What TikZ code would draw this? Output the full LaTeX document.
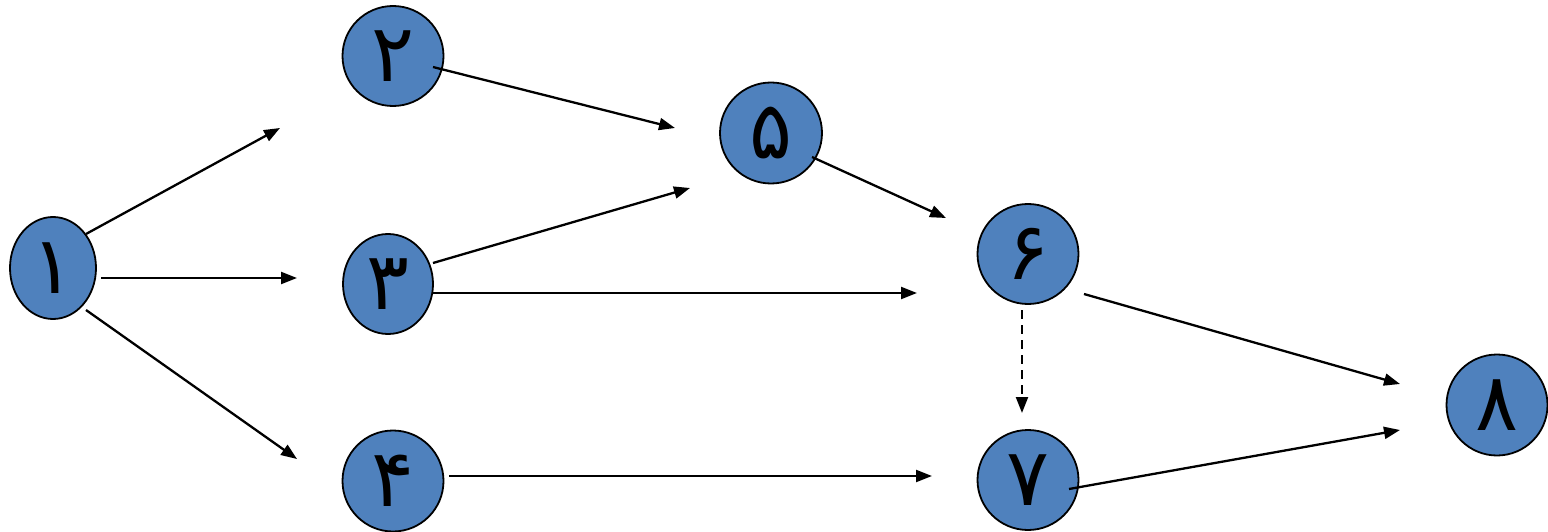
\documentclass[tikz,border=0pt]{standalone}
\usepackage{fontspec}
\usetikzlibrary{arrows.meta,shapes.geometric}
\newfontfamily\arabicfont[Script=Arabic]{DejaVu Sans}
\TeXXeTstate=1
\definecolor{nodeblue}{HTML}{4F81BD}
\tikzset{
  evnode/.style={ellipse, draw=black, line width=1.8pt, fill=nodeblue, inner sep=0pt,
    font=\arabicfont\fontsize{80}{80}\selectfont},
  arr/.style={line width=2.3pt, -{Triangle[length=16pt,width=12pt]}},
  darr/.style={arr, dash pattern=on 9pt off 6pt}
}
\begin{document}
\begin{tikzpicture}[x=1pt,y=-1pt]
\useasboundingbox (0,0) rectangle (1548,532);
\node[evnode, minimum width=86pt, minimum height=102pt] (n1) at (53,268) {\beginR ۱\endR};
\node[evnode, minimum width=101pt, minimum height=100pt] (n2) at (393,56) {\beginR ۲\endR};
\node[evnode, minimum width=90pt, minimum height=100pt] (n3) at (388,284) {\beginR ۳\endR};
\node[evnode, minimum width=101pt, minimum height=101pt] (n4) at (393,481) {\beginR ۴\endR};
\node[evnode, minimum width=102pt, minimum height=101pt] (n5) at (771,133) {\beginR ۵\endR};
\node[evnode, minimum width=101pt, minimum height=100pt] (n6) at (1028,254) {\beginR ۶\endR};
\node[evnode, minimum width=101pt, minimum height=100pt] (n7) at (1028,480) {\beginR ۷\endR};
\node[evnode, minimum width=101pt, minimum height=101pt] (n8) at (1497,405) {\beginR ۸\endR};

\coordinate (s1a) at (86,234); \coordinate (e1a) at (280,128);
\coordinate (s1b) at (101,278); \coordinate (e1b) at (297,278);
\coordinate (s1c) at (86,310); \coordinate (e1c) at (297,459);
\coordinate (s2) at (433,67); \coordinate (e2) at (675,128);
\coordinate (s3a) at (433,263); \coordinate (e3a) at (690,188);
\coordinate (s3b) at (433,293); \coordinate (e3b) at (917,293);
\coordinate (s5) at (812,157); \coordinate (e5) at (946,218);
\coordinate (s4) at (449,476); \coordinate (e4) at (932,476);
\coordinate (s6a) at (1084,294); \coordinate (e6a) at (1400,384);
\coordinate (s6b) at (1022,310); \coordinate (e6b) at (1022,413);
\coordinate (s7) at (1069,489); \coordinate (e7) at (1400,430);

\draw[arr] (s1a) -- (e1a);
\draw[arr] (s1b) -- (e1b);
\draw[arr] (s1c) -- (e1c);
\draw[arr] (s2) -- (e2);
\draw[arr] (s3a) -- (e3a);
\draw[arr] (s3b) -- (e3b);
\draw[arr] (s5) -- (e5);
\draw[arr] (s4) -- (e4);
\draw[arr] (s6a) -- (e6a);
\draw[darr] (s6b) -- (e6b);
\draw[arr] (s7) -- (e7);
\end{tikzpicture}
\end{document}
